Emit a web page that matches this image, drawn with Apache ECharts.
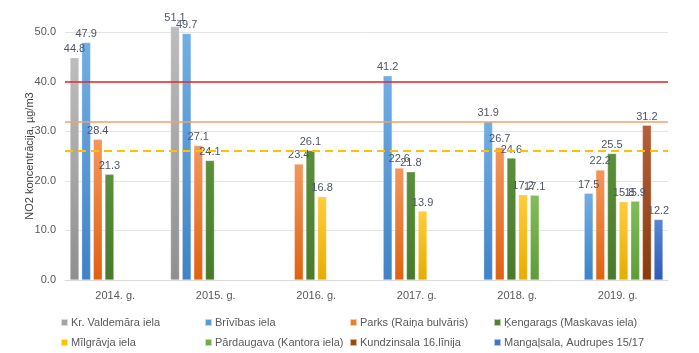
<!DOCTYPE html>
<html>
<head>
<meta charset="utf-8">
<script src="https://cdn.jsdelivr.net/npm/echarts@6/dist/echarts.min.js"></script>
<style>
  html, body { margin: 0; padding: 0; background: #fff; }
  #chart { width: 699px; height: 353px; }
</style>
</head>
<body>
<div id="chart"></div>
<script>
/* NO2 koncentrācija pa gadiem */
const years = ['2014. g.', '2015. g.', '2016. g.', '2017. g.', '2018. g.', '2019. g.']
const stations = [
  'Kr. Valdemāra iela', 'Brīvības iela', 'Parks (Raiņa bulvāris)', 'Ķengarags (Maskavas iela)',
  'Mīlgrāvja iela', 'Pārdaugava (Kantora iela)', 'Kundzinsala 16.līnija', 'Mangaļsala, Audrupes 15/17'
]
const valdemara = [44.8, 51.1, null, null, null, null]
const brivibas = [47.9, 49.7, null, 41.2, 31.9, 17.5]
const parks = [28.4, 27.1, 23.4, 22.6, 26.7, 22.2]
const kengarags = [21.3, 24.1, 26.1, 21.8, 24.6, 25.5]
const milgravja = [null, null, 16.8, 13.9, 17.2, 15.8]
const pardaugava = [null, null, null, null, 17.1, 15.9]
const kundzinsala = [null, null, null, null, null, 31.2]
const mangalsala = [null, null, null, null, null, 12.2]
const yTicks = [0, 10, 20, 30, 40, 50]
// robežvērtība, augšējais un apakšējais novērtēšanas slieksnis
const limits = [40, 32, 26]

const values = [valdemara, brivibas, parks, kengarags, milgravja, pardaugava, kundzinsala, mangalsala]
// krāsas: [augša, apakša, leģenda]
const colors = [
  ['#bdbdbd', '#8f8f8f', '#a5a5a5'],
  ['#72aee4', '#3f83c6', '#5b9bd5'],
  ['#f4975e', '#e0620f', '#ed7d31'],
  ['#5c8f3c', '#477a2a', '#548235'],
  ['#ffcd3c', '#e6ad00', '#ffc000'],
  ['#82bd5a', '#5e9d36', '#70ad47'],
  ['#b5603a', '#8a3a08', '#9e480e'],
  ['#5a85d2', '#2f5cb8', '#4472c4']
]

const grad = (c) => new echarts.graphic.LinearGradient(0, 0, 0, 1, [
  { offset: 0, color: c[0] }, { offset: 1, color: c[1] }
])

const series = stations.map((name, i) => ({
  name: name,
  type: 'bar',
  data: values[i],
  clip: false,
  barGap: '30%',
  barCategoryGap: '10%',
  itemStyle: { color: grad(colors[i]), borderColor: 'rgba(255,255,255,0.6)', borderWidth: 0.5 },
  label: {
    show: true,
    position: 'top',
    distance: 3,
    color: '#4d5566',
    fontSize: 11,
    fontFamily: 'Liberation Sans',
    formatter: (p) => p.value.toFixed(1)
  }
}))

series[0].markLine = {
  silent: true,
  symbol: 'none',
  label: { show: false },
  data: [
    { yAxis: limits[0], lineStyle: { color: '#e8262b', width: 1.5, type: 'solid' } },
    { yAxis: limits[1], lineStyle: { color: '#f2a06a', width: 1.5, type: 'solid' } },
    { yAxis: limits[2], lineStyle: { color: '#ffc000', width: 2, type: [8, 5] } }
  ]
}

// leģenda 4 kolonnās, 2 rindās
const legendCols = [60, 204, 349, 493]
const legendRows = [317, 337]
const legends = stations.map((n, i) => ({
  left: legendCols[i % 4],
  top: legendRows[Math.floor(i / 4)],
  itemWidth: 7,
  itemHeight: 7,
  icon: 'rect',
  selectedMode: false,
  padding: 0,
  textStyle: { color: '#595959', fontSize: 11, fontFamily: 'Liberation Sans', padding: [0, 0, 0, -2] },
  data: [{ name: n, itemStyle: { color: colors[i][2] } }]
}))

const chart = echarts.init(document.getElementById('chart'))
const option = {
  animation: false,
  backgroundColor: '#fff',
  grid: { left: 65, right: 31, top: 32, bottom: 73 },
  legend: legends,
  xAxis: {
    type: 'category',
    data: years,
    axisTick: { show: false },
    axisLine: { lineStyle: { color: '#d9d9d9' } },
    axisLabel: { color: '#595959', fontSize: 11, fontFamily: 'Liberation Sans', margin: 10 }
  },
  yAxis: {
    type: 'value',
    min: yTicks[0],
    max: yTicks[yTicks.length - 1],
    interval: 10,
    name: 'NO2 koncentrācija, µg/m3',
    nameLocation: 'middle',
    nameGap: 30,
    nameMoveOverlap: false,
    nameTextStyle: { color: '#404040', fontSize: 11, fontFamily: 'Liberation Sans' },
    axisLine: { show: false },
    axisTick: { show: false },
    splitLine: { lineStyle: { color: '#e3e3e8', width: 1 } },
    axisLabel: { color: '#595959', fontSize: 11, fontFamily: 'Liberation Sans', margin: 9, formatter: (v) => v.toFixed(1) }
  },
  series: series
}
chart.setOption(option)
</script>
</body>
</html>
